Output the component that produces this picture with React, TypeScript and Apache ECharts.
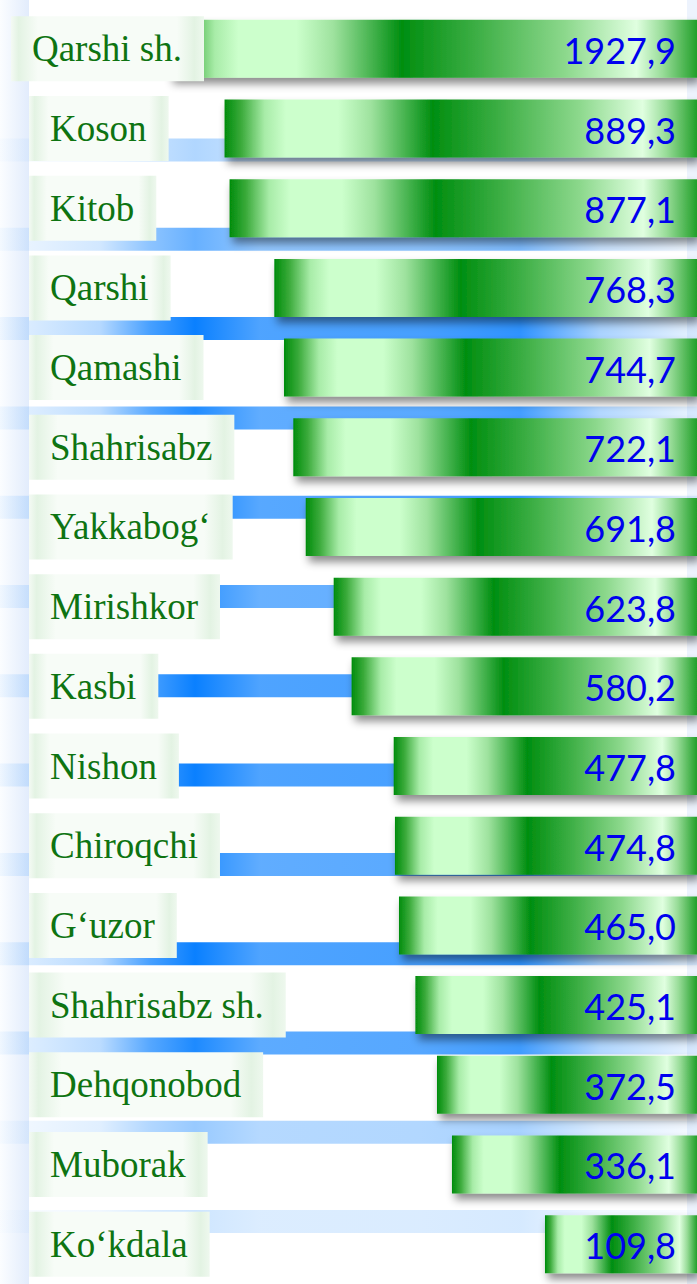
import React, { useEffect, useRef } from 'react';
import * as echarts from 'echarts';

// ---- data ----
const districts = [
  'Qarshi sh.', 'Koson', 'Kitob', 'Qarshi', 'Qamashi', 'Shahrisabz', 'Yakkabog‘', 'Mirishkor',
  'Kasbi', 'Nishon', 'Chiroqchi', 'G‘uzor', 'Shahrisabz sh.', 'Dehqonobod', 'Muborak', 'Ko‘kdala',
];
const values = [
  1927.9, 889.3, 877.1, 768.3, 744.7, 722.1, 691.8, 623.8,
  580.2, 477.8, 474.8, 465.0, 425.1, 372.5, 336.1, 109.8,
];

// ---- axis / style constants ----
const AXIS_MIN = -260;
const AXIS_MAX = 1022;
const W = 697;
const H = 1284;
const BAND_ALPHA = [0.32, 0.62, 1, 0.9, 0.95, 0.85, 1, 1, 0.9, 1, 0.92, 0.42, 0.2];
const BAND_PROFILE: [number, number][] = [
  [0, 0.05], [28, 0.15], [100, 0.3], [150, 0.75], [195, 1], [260, 0.72],
  [420, 0.75], [520, 0.85], [600, 0.35], [697, 0.1],
];

const fmt = (v: number) => v.toFixed(1).replace('.', ',');

const LABEL_FONT = '37px "Liberation Serif"';
const VALUE_FONT = '36px Lato';

let measureCtx: CanvasRenderingContext2D | null = null;
const measure = (t: string) => {
  if (!measureCtx) measureCtx = document.createElement('canvas').getContext('2d');
  measureCtx!.font = LABEL_FONT;
  return measureCtx!.measureText(t).width;
};

const barGrad = () => ({
  type: 'linear', x: 0, y: 0, x2: 1, y2: 0,
  colorStops: [
    { offset: 0, color: '#008c0c' },
    { offset: 0.035, color: '#3aaa3a' },
    { offset: 0.085, color: '#a8eca8' },
    { offset: 0.13, color: '#ccffcc' },
    { offset: 0.24, color: '#ccffcc' },
    { offset: 0.31, color: '#9ee29e' },
    { offset: 0.44, color: '#008e10' },
    { offset: 0.58, color: '#3cae44' },
    { offset: 0.75, color: '#8cd88c' },
    { offset: 0.885, color: '#e0ffe0' },
    { offset: 0.935, color: '#98dc98' },
    { offset: 1, color: '#22a02a' },
  ],
});

const boxGrad = () => ({
  type: 'linear', x: 0, y: 0, x2: 1, y2: 0,
  colorStops: [
    { offset: 0, color: '#f4faf4' },
    { offset: 0.04, color: '#e3f3e3' },
    { offset: 0.14, color: '#f7fcf7' },
    { offset: 0.86, color: '#f7fcf7' },
    { offset: 0.95, color: '#e3f3e3' },
    { offset: 1, color: '#eef8ee' },
  ],
});

const bandGrad = (a: number) => ({
  type: 'linear', x: 0, y: 0, x2: 1, y2: 0,
  colorStops: BAND_PROFILE.map(([x, p]) => ({
    offset: x / W,
    color: `rgba(10,128,255,${(p * a).toFixed(3)})`,
  })),
});

export default function App() {
  const ref = useRef<HTMLDivElement>(null);

  useEffect(() => {
    if (!ref.current) return;
    const chart = echarts.init(ref.current, undefined, { renderer: 'svg' });

    const graphics: any[] = [
      {
        type: 'rect', z: 0, silent: true,
        shape: { x: 0, y: 0, width: 29, height: H },
        style: {
          fill: { type: 'linear', x: 0, y: 0, x2: 1, y2: 0, colorStops: [
            { offset: 0, color: '#fbfdff' }, { offset: 1, color: '#e2ecfc' },
          ] },
        },
      },
      {
        type: 'rect', z: 0, silent: true,
        shape: { x: 687, y: 0, width: 10, height: H },
        style: { fill: '#edf3fd' },
      },
    ];
    BAND_ALPHA.forEach((a, k) => {
      graphics.push({
        type: 'rect', z: 1, silent: true,
        shape: { x: 0, y: 150 + 89.3 * k - 11.5, width: W, height: 23 },
        style: { fill: bandGrad(a) },
      });
    });

    const renderItem = (params: any, api: any) => {
      const cs = params.coordSys;
      const idx = api.value(1);
      const v = api.value(0);
      const pt = api.coord([v, idx]);
      const cy = pt[1];
      const right = cs.x + cs.width;
      const left = Math.max(cs.x, pt[0]);
      const barH = 58;
      const name = districts[idx];
      const tw = measure(name);
      const textX = Math.min(50, left + 12 - tw);
      const boxL = textX - 21;
      const boxW = tw + 43;
      return {
        type: 'group',
        children: [
          {
            type: 'rect',
            shape: { x: left, y: cy - barH / 2, width: right - left, height: barH },
            style: {
              fill: barGrad(),
              shadowBlur: 8, shadowOffsetX: 3, shadowOffsetY: 6,
              shadowColor: 'rgba(0,0,0,0.45)',
            },
          },
          {
            type: 'rect',
            shape: { x: boxL, y: cy - 32.5, width: boxW, height: 65 },
            style: { fill: boxGrad() },
          },
          {
            type: 'text', x: textX, y: cy,
            style: { text: name, fill: '#0e7412', font: LABEL_FONT, align: 'left', verticalAlign: 'middle' },
          },
          {
            type: 'text', x: right - 21, y: cy + 1,
            style: { text: fmt(v), fill: '#0000ee', font: VALUE_FONT, align: 'right', verticalAlign: 'middle' },
          },
        ],
      };
    };

    chart.setOption({
      animation: false,
      backgroundColor: '#ffffff',
      grid: { left: 170, right: 0, top: 9, height: 1278 },
      xAxis: { type: 'value', inverse: true, min: AXIS_MIN, max: AXIS_MAX, show: false },
      yAxis: { type: 'category', inverse: true, data: districts, show: false },
      graphic: { elements: graphics },
      series: [
        {
          type: 'custom',
          z: 5,
          renderItem,
          encode: { x: 0, y: 1 },
          data: values.map((v, i) => [v, i]),
        },
      ],
    });

    return () => chart.dispose();
  }, []);

  return (
    <div
      ref={ref}
      style={{ position: 'absolute', left: 0, top: 0, width: W, height: H }}
    />
  );
}
